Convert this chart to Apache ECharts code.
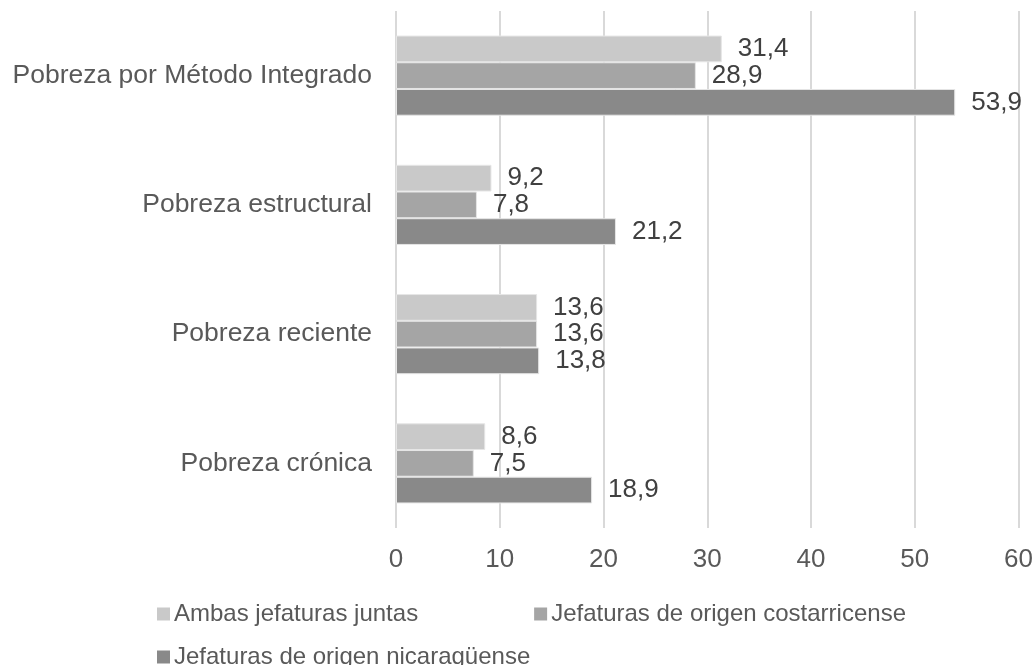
<!DOCTYPE html>
<html>
<head>
<meta charset="utf-8">
<script src="https://cdn.jsdelivr.net/npm/echarts@6/dist/echarts.min.js"></script>
<style>
  html, body { margin: 0; padding: 0; background: #fff; }
  #main { width: 1036px; height: 665px; }
</style>
</head>
<body>
<div id="main"></div>
<script>
// categorias de arriba hacia abajo
var categorias = ['Pobreza por Método Integrado', 'Pobreza estructural', 'Pobreza reciente', 'Pobreza crónica'];
var ambas = [31.4, 9.2, 13.6, 8.6];
var costarricense = [28.9, 7.8, 13.6, 7.5];
var nicaraguense = [53.9, 21.2, 13.8, 18.9];
var ticksX = [0, 10, 20, 30, 40, 50, 60];

var fuente = 'Liberation Sans, Arial, sans-serif';

var myChart = echarts.init(document.getElementById('main'));

function serie(nombre, datos, color) {
  return {
    name: nombre,
    type: 'bar',
    data: datos,
    barGap: '0%',
    barCategoryGap: '38%',
    itemStyle: { color: color, borderColor: '#e6e6e6', borderWidth: 1 },
    label: {
      show: true,
      position: 'right',
      distance: 16,
      color: '#404040',
      fontFamily: fuente,
      fontSize: 26,
      formatter: function (p) { return String(p.value).replace('.', ','); }
    }
  };
}

var estiloLeyenda = {
  icon: 'rect', itemWidth: 13, itemHeight: 13,
  itemStyle: { borderWidth: 0 },
  textStyle: { color: '#595959', fontSize: 24, fontFamily: fuente, padding: [0, 0, 0, -1] }
};

myChart.setOption({
  animation: false,
  grid: { left: 396, right: 16, top: 11, bottom: 137 },
  legend: [
    Object.assign({
      data: ['Ambas jefaturas juntas', 'Jefaturas de origen costarricense'],
      left: 152, top: 597, itemGap: 116
    }, estiloLeyenda),
    Object.assign({
      data: ['Jefaturas de origen nicaragüense'],
      left: 152, top: 640
    }, estiloLeyenda)
  ],
  xAxis: {
    type: 'value',
    min: ticksX[0], max: ticksX[ticksX.length - 1], interval: 10,
    axisLine: { show: false },
    axisTick: { show: false },
    axisLabel: { color: '#595959', fontSize: 26, fontFamily: fuente, margin: 19 },
    splitLine: { lineStyle: { color: '#d9d9d9', width: 2 } }
  },
  yAxis: {
    type: 'category',
    inverse: true,
    data: categorias,
    axisLine: { show: false },
    axisTick: { show: false },
    axisLabel: { color: '#595959', fontSize: 26.5, fontFamily: fuente, margin: 24 }
  },
  series: [
    serie('Ambas jefaturas juntas', ambas, '#c9c9c9'),
    serie('Jefaturas de origen costarricense', costarricense, '#a5a5a5'),
    serie('Jefaturas de origen nicaragüense', nicaraguense, '#898989')
  ]
});
</script>
</body>
</html>
